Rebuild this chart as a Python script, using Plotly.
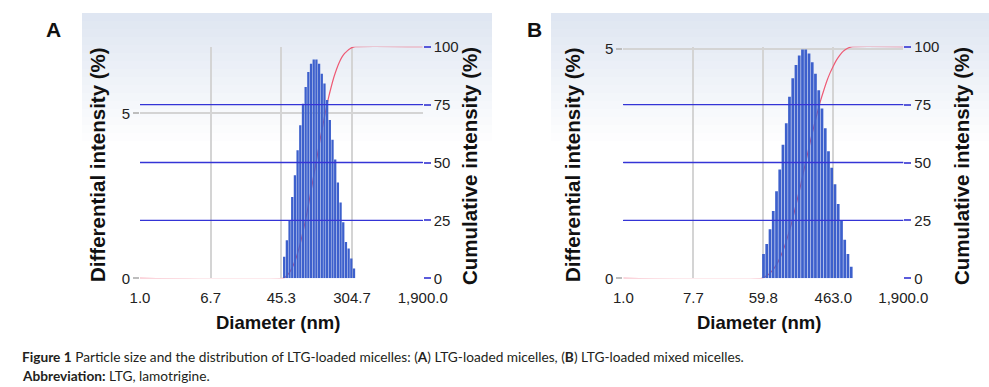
import plotly.graph_objects as go

W, H = 989, 387

# ---------------- data ----------------
tick_pos = [0, 1, 2, 3, 4]
a_tick_text = ["1.0", "6.7", "45.3", "304.7", "1,900.0"]
b_tick_text = ["1.0", "7.7", "59.8", "463.0", "1,900.0"]

# Panel A: LTG-loaded micelles (bin positions on the display scale, % values)
a_bin_pos = [2.040, 2.078, 2.116, 2.154, 2.192, 2.230, 2.268, 2.306, 2.344,
             2.382, 2.420, 2.458, 2.496, 2.534, 2.572, 2.610, 2.648, 2.686,
             2.724, 2.762, 2.800, 2.838, 2.876, 2.914, 2.952, 2.990, 3.028]
a_diff = [0.65, 1.15, 1.76, 2.46, 3.12, 3.88, 4.64, 5.29, 5.80, 6.25, 6.50,
          6.63, 6.63, 6.50, 6.20, 5.90, 5.40, 4.80, 4.20, 3.60, 2.90, 2.30,
          1.70, 1.10, 0.90, 0.60, 0.30]
a_cum_x = [0.0, 2.021, 2.059, 2.097, 2.135, 2.173, 2.211, 2.249, 2.287, 2.325,
           2.363, 2.401, 2.439, 2.477, 2.515, 2.553, 2.591, 2.629, 2.667,
           2.705, 2.743, 2.781, 2.819, 2.857, 2.895, 2.933, 2.971, 3.009,
           3.047, 4.0]
a_cum = [0, 0, 0.6, 1.8, 3.5, 6.0, 9.0, 12.9, 17.5, 22.7, 28.4, 34.6, 41.0,
         47.6, 54.1, 60.6, 66.7, 72.5, 77.9, 82.6, 86.8, 90.3, 93.2, 95.5,
         97.1, 98.2, 99.1, 99.7, 100.0, 100.0]

# Panel B: LTG-loaded mixed micelles
b_bin_pos = [2.003, 2.049, 2.096, 2.142, 2.189, 2.235, 2.281, 2.328, 2.374,
             2.421, 2.467, 2.513, 2.560, 2.606, 2.653, 2.699, 2.745, 2.792,
             2.838, 2.885, 2.931, 2.977, 3.024, 3.070, 3.117, 3.163, 3.209,
             3.256]
b_diff = [0.53, 0.75, 1.07, 1.47, 1.90, 2.37, 2.91, 3.38, 3.96, 4.36, 4.65,
          4.86, 4.99, 4.99, 4.90, 4.71, 4.46, 4.10, 3.70, 3.27, 2.77, 2.41,
          2.05, 1.62, 1.26, 0.84, 0.53, 0.25]
b_cum_x = [0.0, 1.980, 2.026, 2.073, 2.119, 2.166, 2.212, 2.258, 2.305, 2.351,
           2.398, 2.444, 2.490, 2.537, 2.583, 2.630, 2.676, 2.722, 2.769,
           2.815, 2.862, 2.908, 2.954, 3.001, 3.047, 3.094, 3.140, 3.186,
           3.233, 3.279, 4.0]
b_cum = [0, 0, 0.7, 1.6, 3.0, 4.8, 7.2, 10.2, 13.9, 18.2, 23.2, 28.7, 34.6,
         40.7, 47.1, 53.4, 59.6, 65.5, 71.2, 76.4, 81.0, 85.2, 88.7, 91.7,
         94.3, 96.4, 98.0, 99.0, 99.7, 100.0, 100.0]

cum_ticks = [0, 25, 50, 75, 100]

# ---------------- styling ----------------
BAR = "#3d60cc"
RED = "#ee5a74"
BLUE = "rgb(52,52,214)"
GRID = "#d4d4d4"
TXT = "#222222"
FONT = "Arial, Liberation Sans, sans-serif"


def px(x):
    return x / W


def py(y):
    return 1 - y / H


YDOM = [py(278.3), py(46.7)]
XDOM_A = [px(140), px(422.7)]
XDOM_B = [px(623.3), px(903.3)]

fig = go.Figure()

# Panel A : bars on main (left) axis, cumulative on overlaid right axis
fig.add_trace(go.Bar(x=a_bin_pos, y=a_diff, xaxis="x", yaxis="y", zorder=1,
                     marker=dict(color=BAR, line=dict(width=0)), showlegend=False))
fig.add_trace(go.Scatter(x=a_cum_x, y=a_cum, xaxis="x", yaxis="y2", mode="lines", zorder=0,
                         line=dict(color=RED, width=1.2, shape="spline", smoothing=0.6),
                         hoverinfo="skip", showlegend=False))
# Panel B
fig.add_trace(go.Bar(x=b_bin_pos, y=b_diff, xaxis="x2", yaxis="y3", zorder=1,
                     marker=dict(color=BAR, line=dict(width=0)), showlegend=False))
fig.add_trace(go.Scatter(x=b_cum_x, y=b_cum, xaxis="x2", yaxis="y4", mode="lines", zorder=0,
                         line=dict(color=RED, width=1.2, shape="spline", smoothing=0.6),
                         hoverinfo="skip", showlegend=False))

xcommon = dict(range=[0, 4], tickvals=tick_pos, showgrid=True, gridcolor=GRID,
               gridwidth=2, zeroline=False, showline=False, ticks="outside",
               ticklen=0, ticklabelstandoff=6, automargin=False,
               tickfont=dict(size=15, color=TXT, family=FONT), fixedrange=True)
cumcommon = dict(range=[0, 100], tickvals=cum_ticks, side="right", showgrid=True,
                 gridcolor=BLUE, gridwidth=1.3,
                 zeroline=False, showline=False, ticks="outside", ticklen=7,
                 tickcolor="rgba(50,50,210,0.8)", tickwidth=1.5, automargin=False,
                 tickfont=dict(size=15, color=TXT, family=FONT))
diffcommon = dict(side="left", showgrid=True, gridcolor=GRID, gridwidth=2,
                  zeroline=False, showline=False, ticks="outside", ticklen=6,
                  tickcolor="#bdbdbd", tickwidth=1.5, tickvals=[0, 5], automargin=False,
                  tickfont=dict(size=15, color=TXT, family=FONT), domain=YDOM)

fig.update_layout(
    width=W, height=H, margin=dict(l=0, r=0, t=0, b=0, autoexpand=False),
    paper_bgcolor="white", plot_bgcolor="rgba(0,0,0,0)",
    bargap=0.15, showlegend=False,
    xaxis=dict(domain=XDOM_A, anchor="y", ticktext=a_tick_text, **xcommon),
    yaxis=dict(anchor="x", range=[0, 7.018], **diffcommon),
    yaxis2=dict(anchor="x", overlaying="y", **cumcommon),
    xaxis2=dict(domain=XDOM_B, anchor="y3", ticktext=b_tick_text, **xcommon),
    yaxis3=dict(anchor="x2", range=[0, 5.05], **diffcommon),
    yaxis4=dict(anchor="x2", overlaying="y3", **cumcommon),
)

shapes = []
# soft gradient panel backgrounds
nstrip = 16
for (x0, x1) in [(82, 492), (551, 989)]:
    for i in range(nstrip):
        y0 = 13 + i * 8
        a = 0.75 * (1 - i / nstrip)
        shapes.append(dict(type="rect", xref="paper", yref="paper", layer="below",
                           x0=px(x0), x1=px(x1), y0=py(y0 + 8), y1=py(y0),
                           fillcolor=f"rgba(212,222,237,{a:.3f})", line=dict(width=0)))
# blue cumulative gridlines drawn over the bars
for xr, yr in [("x domain", "y2"), ("x2 domain", "y4")]:
    for v in cum_ticks[1:4]:
        shapes.append(dict(type="line", xref=xr, yref=yr, x0=0, x1=1, y0=v, y1=v,
                           layer="above", line=dict(color=BLUE, width=1.3)))
fig.update_layout(shapes=shapes)

ann = []
title_font = dict(size=18.5, color="#111111", family=FONT)
ytitle_font = dict(size=20.5, color="#111111", family=FONT)
for cx in [278, 759]:
    ann.append(dict(x=px(cx), y=py(322), xref="paper", yref="paper", showarrow=False,
                    text="<b>Diameter (nm)</b>", font=title_font,
                    xanchor="center", yanchor="middle"))
for lx in [97, 572]:
    ann.append(dict(x=px(lx), y=py(165), xref="paper", yref="paper", showarrow=False,
                    text="<b>Differential intensity (%)</b>", font=ytitle_font,
                    textangle=-90, xanchor="center", yanchor="middle"))
for rx in [470, 962]:
    ann.append(dict(x=px(rx), y=py(166), xref="paper", yref="paper", showarrow=False,
                    text="<b>Cumulative intensity (%)</b>", font=ytitle_font,
                    textangle=-90, xanchor="center", yanchor="middle"))
for lx, t in [(53, "A"), (534, "B")]:
    ann.append(dict(x=px(lx), y=py(29), xref="paper", yref="paper", showarrow=False,
                    text=f"<b>{t}</b>", font=dict(size=21, color="#111111", family=FONT),
                    xanchor="center", yanchor="middle"))
cap_font = dict(size=13.7, color="#231f20", family="Lato, sans-serif")
ann.append(dict(x=px(20), y=py(356), xref="paper", yref="paper", showarrow=False,
                text="<b>Figure 1</b> Particle size and the distribution of LTG-loaded micelles: "
                     "(<b>A</b>) LTG-loaded micelles, (<b>B</b>) LTG-loaded mixed micelles.",
                font=cap_font, xanchor="left", yanchor="middle"))
ann.append(dict(x=px(20), y=py(375), xref="paper", yref="paper", showarrow=False,
                text="<b>Abbreviation:</b> LTG, lamotrigine.",
                font=cap_font, xanchor="left", yanchor="middle"))
fig.update_layout(annotations=ann)

fig.write_html("out.html", config={"displayModeBar": False},
               post_script="document.body.style.margin='0';document.body.style.padding='0';")
